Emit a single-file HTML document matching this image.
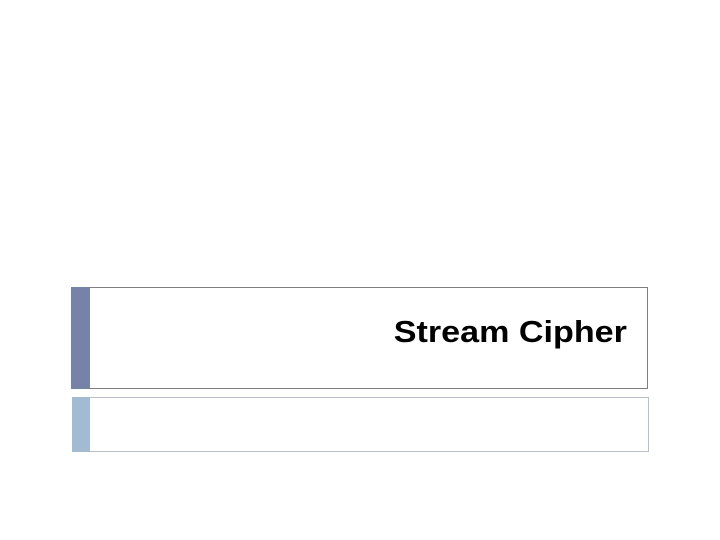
<!DOCTYPE html>
<html><head><meta charset="utf-8"><style>
html,body{margin:0;padding:0;width:720px;height:540px;background:#fff;overflow:hidden;position:relative;font-family:"Liberation Sans",sans-serif}
.b{position:absolute;box-sizing:border-box}
</style></head><body>
<div class="b" style="left:71px;top:287px;width:577px;height:102px;border:1px solid #7f7f7f;border-left:none"></div>
<div class="b" style="left:71px;top:287px;width:19px;height:102px;background:#7682a8"></div>
<div class="b" style="left:72px;top:397px;width:577px;height:55px;border:1px solid #b7c0c8;border-left:none"></div>
<div class="b" style="left:72px;top:397px;width:18px;height:55px;background:#a2bad2"></div>
<div style="position:absolute;right:93px;top:312px;font-size:31px;font-weight:bold;line-height:40px;color:#000;white-space:nowrap;transform:scaleX(1.1);transform-origin:right center">Stream Cipher</div>
</body></html>
